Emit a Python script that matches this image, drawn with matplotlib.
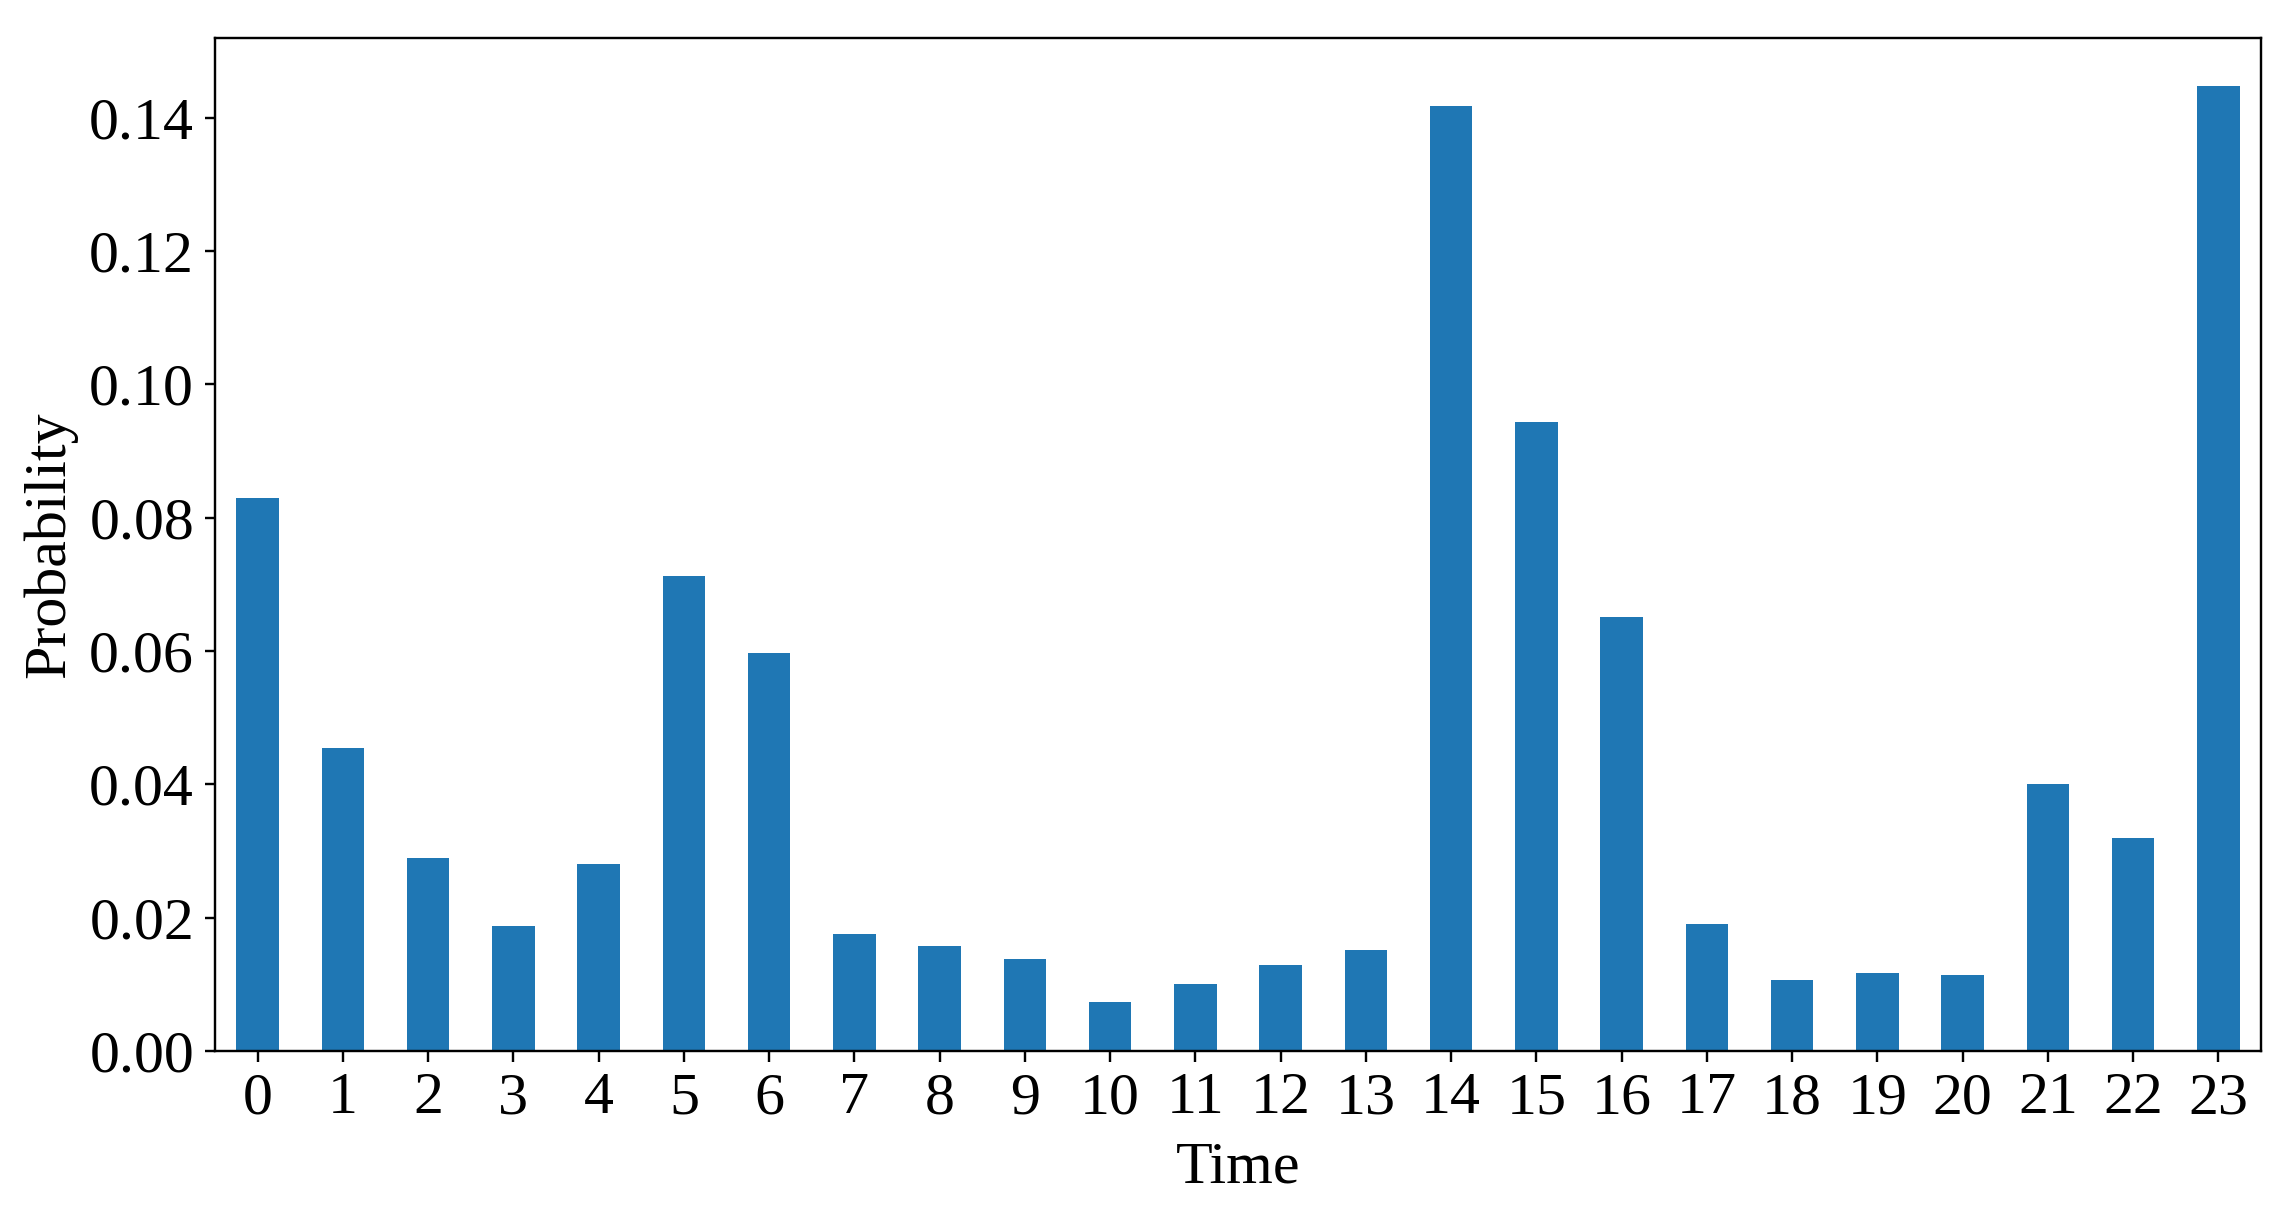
import matplotlib
matplotlib.use("Agg")
import matplotlib.pyplot as plt
import numpy as np

hours = list(range(24))
probability = [0.0829, 0.0455, 0.0289, 0.0187, 0.0280, 0.0712, 0.0597, 0.0176,
               0.0158, 0.0138, 0.0073, 0.0101, 0.0129, 0.0152, 0.1417, 0.0944,
               0.0651, 0.0190, 0.0106, 0.0117, 0.0114, 0.0401, 0.0320, 0.1447]
x_label = "Time"
y_label = "Probability"

plt.rcParams['font.family'] = ['Liberation Serif', 'DejaVu Serif']
plt.rcParams['font.size'] = 20

fig = plt.figure(figsize=(2295 / 216, 1211 / 216), dpi=216)
ax = fig.add_axes([0.0937, 0.132, 0.8915, 0.8366])

pos = np.arange(len(hours))
ax.bar(pos, probability, width=0.5, color='#1f77b4')
ax.set_xticks(pos)
ax.set_xticklabels([str(h) for h in hours], rotation=0)
ax.set_xlim(-0.5, len(hours) - 0.5)
ax.set_ylim(0, max(probability) * 1.05)
ax.set_yticks(np.arange(0, 0.141, 0.02))
ax.yaxis.set_major_formatter(matplotlib.ticker.FormatStrFormatter('%.2f'))
ax.set_xlabel(x_label, labelpad=5)
ax.set_ylabel(y_label, labelpad=4)

fig.savefig("out.png", dpi=216)
